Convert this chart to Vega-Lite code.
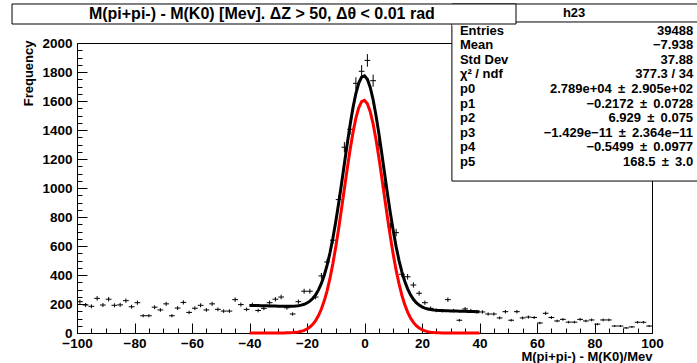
{
  "$schema": "https://vega.github.io/schema/vega-lite/v6.json",
  "width": 575,
  "height": 290,
  "autosize": {"type": "none"},
  "padding": {"left": 77, "top": 43, "right": 45, "bottom": 30},
  "background": "white",
  "config": {
    "view": {"stroke": "black", "strokeWidth": 1},
    "font": "Liberation Sans",
    "axis": {"grid": false, "domainColor": "black", "tickColor": "black", "labelColor": "black", "titleColor": "black", "labelFont": "Liberation Sans", "labelFontWeight": "bold", "labelFontSize": 13.5, "titleFont": "Liberation Sans", "titleFontWeight": "bold", "titleFontSize": 13, "labelFlush": false, "labelOverlap": false}
  },
  "datasets": {
    "hist": [
      {"x":-99,"x0":-100,"x1":-98,"n":216,"lo":201.3,"hi":230.7},{"x":-97,"x0":-98,"x1":-96,"n":193,"lo":179.1,"hi":206.9},{"x":-95,"x0":-96,"x1":-94,"n":184,"lo":170.4,"hi":197.6},{"x":-93,"x0":-94,"x1":-92,"n":239,"lo":223.5,"hi":254.5},{"x":-91,"x0":-92,"x1":-90,"n":193,"lo":179.1,"hi":206.9},
      {"x":-89,"x0":-90,"x1":-88,"n":233,"lo":217.7,"hi":248.3},{"x":-87,"x0":-88,"x1":-86,"n":191,"lo":177.2,"hi":204.8},{"x":-85,"x0":-86,"x1":-84,"n":194,"lo":180.1,"hi":207.9},{"x":-83,"x0":-84,"x1":-82,"n":223,"lo":208.1,"hi":237.9},{"x":-81,"x0":-82,"x1":-80,"n":181,"lo":167.5,"hi":194.5},
      {"x":-79,"x0":-80,"x1":-78,"n":209,"lo":194.5,"hi":223.5},{"x":-77,"x0":-78,"x1":-76,"n":119,"lo":108.1,"hi":129.9},{"x":-75,"x0":-76,"x1":-74,"n":119,"lo":108.1,"hi":129.9},{"x":-73,"x0":-74,"x1":-72,"n":178,"lo":164.7,"hi":191.3},{"x":-71,"x0":-72,"x1":-70,"n":159,"lo":146.4,"hi":171.6},
      {"x":-69,"x0":-70,"x1":-68,"n":201,"lo":186.8,"hi":215.2},{"x":-67,"x0":-68,"x1":-66,"n":119,"lo":108.1,"hi":129.9},{"x":-65,"x0":-66,"x1":-64,"n":172,"lo":158.9,"hi":185.1},{"x":-63,"x0":-64,"x1":-62,"n":211,"lo":196.5,"hi":225.5},{"x":-61,"x0":-62,"x1":-60,"n":142,"lo":130.1,"hi":153.9},
      {"x":-59,"x0":-60,"x1":-58,"n":171,"lo":157.9,"hi":184.1},{"x":-57,"x0":-58,"x1":-56,"n":191,"lo":177.2,"hi":204.8},{"x":-55,"x0":-56,"x1":-54,"n":159,"lo":146.4,"hi":171.6},{"x":-53,"x0":-54,"x1":-52,"n":201,"lo":186.8,"hi":215.2},{"x":-51,"x0":-52,"x1":-50,"n":163,"lo":150.2,"hi":175.8},
      {"x":-49,"x0":-50,"x1":-48,"n":151,"lo":138.7,"hi":163.3},{"x":-47,"x0":-48,"x1":-46,"n":151,"lo":138.7,"hi":163.3},{"x":-45,"x0":-46,"x1":-44,"n":230,"lo":214.8,"hi":245.2},{"x":-43,"x0":-44,"x1":-42,"n":196,"lo":182,"hi":210},{"x":-41,"x0":-42,"x1":-40,"n":163,"lo":150.2,"hi":175.8},
      {"x":-39,"x0":-40,"x1":-38,"n":195,"lo":181,"hi":209},{"x":-37,"x0":-38,"x1":-36,"n":155,"lo":142.6,"hi":167.4},{"x":-35,"x0":-36,"x1":-34,"n":170,"lo":157,"hi":183},{"x":-33,"x0":-34,"x1":-32,"n":209,"lo":194.5,"hi":223.5},{"x":-31,"x0":-32,"x1":-30,"n":233,"lo":217.7,"hi":248.3},
      {"x":-29,"x0":-30,"x1":-28,"n":248,"lo":232.3,"hi":263.7},{"x":-27,"x0":-28,"x1":-26,"n":174,"lo":160.8,"hi":187.2},{"x":-25,"x0":-26,"x1":-24,"n":131,"lo":119.6,"hi":142.4},{"x":-23,"x0":-24,"x1":-22,"n":216,"lo":201.3,"hi":230.7},{"x":-21,"x0":-22,"x1":-20,"n":288,"lo":271,"hi":305},
      {"x":-19,"x0":-20,"x1":-18,"n":288,"lo":271,"hi":305},{"x":-17,"x0":-18,"x1":-16,"n":248,"lo":232.3,"hi":263.7},{"x":-15,"x0":-16,"x1":-14,"n":394,"lo":374.2,"hi":413.8},{"x":-13,"x0":-14,"x1":-12,"n":490,"lo":467.9,"hi":512.1},{"x":-11,"x0":-12,"x1":-10,"n":640,"lo":614.7,"hi":665.3},
      {"x":-9,"x0":-10,"x1":-8,"n":920,"lo":889.7,"hi":950.3},{"x":-7,"x0":-8,"x1":-6,"n":1281,"lo":1245.2,"hi":1316.8},{"x":-5,"x0":-6,"x1":-4,"n":1405,"lo":1367.5,"hi":1442.5},{"x":-3,"x0":-4,"x1":-2,"n":1722,"lo":1680.5,"hi":1763.5},{"x":-1,"x0":-2,"x1":0,"n":1805,"lo":1762.5,"hi":1847.5},
      {"x":1,"x0":0,"x1":2,"n":1880,"lo":1836.6,"hi":1923.4},{"x":3,"x0":2,"x1":4,"n":1740,"lo":1698.3,"hi":1781.7},{"x":5,"x0":4,"x1":6,"n":1300,"lo":1263.9,"hi":1336.1},{"x":7,"x0":6,"x1":8,"n":1005,"lo":973.3,"hi":1036.7},{"x":9,"x0":8,"x1":10,"n":733,"lo":705.9,"hi":760.1},
      {"x":11,"x0":10,"x1":12,"n":692,"lo":665.7,"hi":718.3},{"x":13,"x0":12,"x1":14,"n":405,"lo":384.9,"hi":425.1},{"x":15,"x0":14,"x1":16,"n":388,"lo":368.3,"hi":407.7},{"x":17,"x0":16,"x1":18,"n":331,"lo":312.8,"hi":349.2},{"x":19,"x0":18,"x1":20,"n":274,"lo":257.4,"hi":290.6},
      {"x":21,"x0":20,"x1":22,"n":209,"lo":194.5,"hi":223.5},{"x":23,"x0":22,"x1":24,"n":170,"lo":157,"hi":183},{"x":25,"x0":24,"x1":26,"n":156,"lo":143.5,"hi":168.5},{"x":27,"x0":26,"x1":28,"n":153,"lo":140.6,"hi":165.4},{"x":29,"x0":28,"x1":30,"n":230,"lo":214.8,"hi":245.2},
      {"x":31,"x0":30,"x1":32,"n":154,"lo":141.6,"hi":166.4},{"x":33,"x0":32,"x1":34,"n":88,"lo":78.6,"hi":97.4},{"x":35,"x0":34,"x1":36,"n":166,"lo":153.1,"hi":178.9},{"x":37,"x0":36,"x1":38,"n":154,"lo":141.6,"hi":166.4},{"x":39,"x0":38,"x1":40,"n":147,"lo":134.9,"hi":159.1},
      {"x":41,"x0":40,"x1":42,"n":145,"lo":133,"hi":157},{"x":43,"x0":42,"x1":44,"n":131,"lo":119.6,"hi":142.4},{"x":45,"x0":44,"x1":46,"n":131,"lo":119.6,"hi":142.4},{"x":47,"x0":46,"x1":48,"n":104,"lo":93.8,"hi":114.2},{"x":49,"x0":48,"x1":50,"n":147,"lo":134.9,"hi":159.1},
      {"x":51,"x0":50,"x1":52,"n":88,"lo":78.6,"hi":97.4},{"x":53,"x0":52,"x1":54,"n":147,"lo":134.9,"hi":159.1},{"x":55,"x0":54,"x1":56,"n":104,"lo":93.8,"hi":114.2},{"x":57,"x0":56,"x1":58,"n":110,"lo":99.5,"hi":120.5},{"x":59,"x0":58,"x1":60,"n":107,"lo":96.7,"hi":117.3},
      {"x":61,"x0":60,"x1":62,"n":69,"lo":60.7,"hi":77.3},{"x":63,"x0":62,"x1":64,"n":136,"lo":124.3,"hi":147.7},{"x":65,"x0":64,"x1":66,"n":107,"lo":96.7,"hi":117.3},{"x":67,"x0":66,"x1":68,"n":83,"lo":73.9,"hi":92.1},{"x":69,"x0":68,"x1":70,"n":94,"lo":84.3,"hi":103.7},
      {"x":71,"x0":70,"x1":72,"n":75,"lo":66.3,"hi":83.7},{"x":73,"x0":72,"x1":74,"n":75,"lo":66.3,"hi":83.7},{"x":75,"x0":74,"x1":76,"n":94,"lo":84.3,"hi":103.7},{"x":77,"x0":76,"x1":78,"n":83,"lo":73.9,"hi":92.1},{"x":79,"x0":78,"x1":80,"n":90,"lo":80.5,"hi":99.5},
      {"x":81,"x0":80,"x1":82,"n":61,"lo":53.2,"hi":68.8},{"x":83,"x0":82,"x1":84,"n":90,"lo":80.5,"hi":99.5},{"x":85,"x0":84,"x1":86,"n":90,"lo":80.5,"hi":99.5},{"x":87,"x0":86,"x1":88,"n":48,"lo":41.1,"hi":54.9},{"x":89,"x0":88,"x1":90,"n":48,"lo":41.1,"hi":54.9},
      {"x":91,"x0":90,"x1":92,"n":35,"lo":29.1,"hi":40.9},{"x":93,"x0":92,"x1":94,"n":42,"lo":35.5,"hi":48.5},{"x":95,"x0":94,"x1":96,"n":74,"lo":65.4,"hi":82.6},{"x":97,"x0":96,"x1":98,"n":74,"lo":65.4,"hi":82.6},{"x":99,"x0":98,"x1":100,"n":48,"lo":41.1,"hi":54.9}
    ],
    "fit": [
      {"x":-40,"total":190.5,"sig":0},{"x":-39,"total":189.9,"sig":0},{"x":-38,"total":189.4,"sig":0},{"x":-37,"total":188.8,"sig":0},{"x":-36,"total":188.3,"sig":0},
      {"x":-35,"total":187.7,"sig":0},{"x":-34,"total":187.2,"sig":0},{"x":-33,"total":186.6,"sig":0},{"x":-32,"total":186.1,"sig":0},{"x":-31,"total":185.5,"sig":0},
      {"x":-30,"total":185.0,"sig":0},{"x":-29,"total":184.5,"sig":0.1},{"x":-28,"total":184.2,"sig":0.3},{"x":-27,"total":184.2,"sig":0.9},{"x":-26,"total":184.4,"sig":1.6},
      {"x":-25,"total":184.9,"sig":2.7},{"x":-24,"total":186.1,"sig":4.4},{"x":-23,"total":188.3,"sig":7.2},{"x":-22,"total":192.1,"sig":11.5},{"x":-21,"total":197.9,"sig":17.9},
      {"x":-20,"total":206.8,"sig":27.3},{"x":-19,"total":219.7,"sig":40.8},{"x":-18,"total":238.1,"sig":59.7},{"x":-17,"total":263.3,"sig":85.5},{"x":-16,"total":297.3,"sig":120.0},
      {"x":-15,"total":341.7,"sig":165.0},{"x":-14,"total":398.3,"sig":222.1},{"x":-13,"total":468.5,"sig":292.9},{"x":-12,"total":553.4,"sig":378.3},{"x":-11,"total":653.1,"sig":478.6},
      {"x":-10,"total":766.8,"sig":592.8},{"x":-9,"total":892.6,"sig":719.2},{"x":-8,"total":1027.5,"sig":854.6},{"x":-7,"total":1166.9,"sig":994.6},{"x":-6,"total":1305.5,"sig":1133.7},
      {"x":-5,"total":1436.8,"sig":1265.6},{"x":-4,"total":1554.3,"sig":1383.6},{"x":-3,"total":1651.7,"sig":1481.6},{"x":-2,"total":1723.3,"sig":1553.7},{"x":-1,"total":1764.8,"sig":1595.8},
      {"x":0,"total":1773.7,"sig":1605.2},{"x":1,"total":1749.4,"sig":1581.4},{"x":2,"total":1693.3,"sig":1525.9},{"x":3,"total":1608.8,"sig":1441.9},{"x":4,"total":1500.8,"sig":1334.5},
      {"x":5,"total":1375.4,"sig":1209.6},{"x":6,"total":1239.1,"sig":1073.9},{"x":7,"total":1098.3,"sig":933.6},{"x":8,"total":959.1,"sig":795.0},{"x":9,"total":826.7,"sig":663.1},
      {"x":10,"total":704.6,"sig":541.6},{"x":11,"total":595.8,"sig":433.3},{"x":12,"total":501.3,"sig":339.4},{"x":13,"total":421.9,"sig":260.5},{"x":14,"total":356.5,"sig":195.7},
      {"x":15,"total":304.3,"sig":144.0},{"x":16,"total":263.5,"sig":103.8},{"x":17,"total":232.5,"sig":73.3},{"x":18,"total":209.3,"sig":50.7},{"x":19,"total":192.4,"sig":34.3},
      {"x":20,"total":180.3,"sig":22.8},{"x":21,"total":171.8,"sig":14.8},{"x":22,"total":165.8,"sig":9.4},{"x":23,"total":161.8,"sig":5.9},{"x":24,"total":158.9,"sig":3.6},
      {"x":25,"total":156.9,"sig":2.1},{"x":26,"total":155.4,"sig":1.2},{"x":27,"total":154.4,"sig":0.7},{"x":28,"total":153.5,"sig":0.4},{"x":29,"total":152.8,"sig":0.2},
      {"x":30,"total":152.0,"sig":0.1},{"x":31,"total":151.5,"sig":0},{"x":32,"total":150.9,"sig":0},{"x":33,"total":150.4,"sig":0},{"x":34,"total":149.8,"sig":0},
      {"x":35,"total":149.3,"sig":0},{"x":36,"total":148.7,"sig":0},{"x":37,"total":148.2,"sig":0},{"x":38,"total":147.6,"sig":0},{"x":39,"total":147.1,"sig":0},
      {"x":40,"total":146.5,"sig":0}
    ],
    "stats": [
      {"row":1,"label":"Entries","value":"39488"},
      {"row":2,"label":"Mean","value":"−7.938"},
      {"row":3,"label":"Std Dev","value":"37.88"},
      {"row":4,"label":"χ² / ndf","value":"377.3 / 34"},
      {"row":5,"label":"p0","value":"2.789e+04 \u2009±\u2009 2.905e+02"},
      {"row":6,"label":"p1","value":"−0.2172 \u2009±\u2009 0.0728"},
      {"row":7,"label":"p2","value":"6.929 \u2009±\u2009 0.075"},
      {"row":8,"label":"p3","value":"−1.429e−11 \u2009±\u2009 2.364e−11"},
      {"row":9,"label":"p4","value":"−0.5499 \u2009±\u2009 0.0977"},
      {"row":10,"label":"p5","value":"168.5 \u2009±\u2009 3.0"}
    ]
  },
  "layer": [
    {
      "layer": [
        {
          "data": {"name": "hist"},
          "mark": {"type": "rule", "color": "black", "strokeWidth": 1},
          "encoding": {
            "x": {"field": "x0", "type": "quantitative", "scale": {"domain": [-100, 100], "nice": false, "zero": false},
              "axis": {
                "orient": "bottom",
                "values": [-100,-80,-60,-40,-20,0,20,40,60,80,100],
                "format": "d",
                "tickSize": -10,
                "labelPadding": 13,
                "title": "M(pi+pi-) - M(K0)/Mev",
                "titleAnchor": "end", "titleAlign": "right", "titleX": 575, "titleY": 23, "titleBaseline": "middle"
              }},
            "x2": {"field": "x1"},
            "y": {"field": "n", "type": "quantitative", "scale": {"domain": [0, 2000], "nice": false, "zero": false},
              "axis": {
                "orient": "left",
                "values": [0,200,400,600,800,1000,1200,1400,1600,1800,2000],
                "format": "d",
                "tickSize": -10,
                "labelPadding": 15,
                "title": "Frequency",
                "titleAngle": 270, "titleAlign": "right", "titleX": -49, "titleY": -3, "titleBaseline": "middle"
              }}
          }
        },
        {
          "data": {"name": "hist"},
          "mark": {"type": "rule", "color": "black", "strokeWidth": 1},
          "encoding": {
            "x": {"field": "x", "type": "quantitative", "axis": null},
            "y": {"field": "lo", "type": "quantitative", "axis": null},
            "y2": {"field": "hi"}
          }
        },
        {
          "data": {"name": "fit"},
          "mark": {"type": "line", "color": "#ff0000", "strokeWidth": 3},
          "encoding": {
            "x": {"field": "x", "type": "quantitative", "axis": null},
            "y": {"field": "sig", "type": "quantitative", "axis": null}
          }
        },
        {
          "data": {"name": "fit"},
          "mark": {"type": "line", "color": "black", "strokeWidth": 3},
          "encoding": {
            "x": {"field": "x", "type": "quantitative",
              "axis": {"orient": "bottom", "values": [-95,-90,-85,-75,-70,-65,-55,-50,-45,-35,-30,-25,-15,-10,-5,5,10,15,25,30,35,45,50,55,65,70,75,85,90,95], "labels": false, "domain": false, "tickSize": -5, "title": null}},
            "y": {"field": "total", "type": "quantitative",
              "axis": {"orient": "left", "values": [50,100,150,250,300,350,450,500,550,650,700,750,850,900,950,1050,1100,1150,1250,1300,1350,1450,1500,1550,1650,1700,1750,1850,1900,1950], "labels": false, "domain": false, "tickSize": -5, "title": null}}
          }
        },
        {
          "data": {"values": [{}]},
          "mark": {"type": "rect", "fill": "white", "stroke": "black", "strokeWidth": 1},
          "encoding": {
            "x": {"datum": 30.4, "type": "quantitative", "axis": null}, "x2": {"datum": 117},
            "y": {"datum": 1048, "type": "quantitative", "axis": null}, "y2": {"datum": 2145}
          }
        }
      ],
      "resolve": {"axis": {"x": "independent", "y": "independent"}}
    },
    {
      "data": {"name": "stats"},
      "layer": [
        {
          "mark": {"type": "text", "font": "Liberation Sans", "fontWeight": "bold", "fontSize": 13, "align": "left", "baseline": "middle", "color": "black"},
          "encoding": {
            "x": {"datum": 33.2, "type": "quantitative", "axis": null},
            "y": {"field": "row", "type": "quantitative", "scale": {"domain": [21.71, 1.849], "nice": false, "zero": false}, "axis": null},
            "text": {"field": "label"}
          }
        },
        {
          "mark": {"type": "text", "font": "Liberation Sans", "fontWeight": "bold", "fontSize": 13, "align": "right", "baseline": "middle", "color": "black"},
          "encoding": {
            "x": {"datum": 114.3, "type": "quantitative", "axis": null},
            "y": {"field": "row", "type": "quantitative", "axis": null},
            "text": {"field": "value"}
          }
        }
      ]
    },
    {
      "data": {"values": [{}]},
      "layer": [
        {
          "mark": {"type": "rect", "fill": "white", "strokeWidth": 0},
          "encoding": {
            "x": {"datum": 30.5, "type": "quantitative", "axis": null}, "x2": {"datum": 117},
            "y": {"datum": 2117, "type": "quantitative", "scale": {"domain": [0, 2000], "nice": false, "zero": false}, "axis": null}, "y2": {"datum": 2145}
          }
        },
        {
          "mark": {"type": "rect", "fill": "white", "stroke": "black", "strokeWidth": 1},
          "encoding": {
            "x": {"datum": 30.4, "type": "quantitative", "axis": null}, "x2": {"datum": 117},
            "y": {"datum": 2145, "type": "quantitative", "axis": null}, "y2": {"datum": 2269}
          }
        },
        {
          "mark": {"type": "rect", "fill": "white", "stroke": "black", "strokeWidth": 1},
          "encoding": {
            "x": {"datum": -122.6, "type": "quantitative", "axis": null}, "x2": {"datum": 52.7},
            "y": {"datum": 2131, "type": "quantitative", "axis": null}, "y2": {"datum": 2269}
          }
        },
        {
          "mark": {"type": "text", "text": "M(pi+pi-) - M(K0) [Mev]. ΔZ > 50, Δθ < 0.01 rad", "font": "Liberation Sans", "fontWeight": "bold", "fontSize": 16, "align": "center", "baseline": "middle", "color": "black"},
          "encoding": {"x": {"datum": -35.7, "type": "quantitative", "axis": null}, "y": {"datum": 2197, "type": "quantitative", "axis": null}}
        },
        {
          "mark": {"type": "text", "text": "h23", "font": "Liberation Sans", "fontWeight": "bold", "fontSize": 13, "align": "center", "baseline": "middle", "color": "black"},
          "encoding": {"x": {"datum": 72.9, "type": "quantitative", "axis": null}, "y": {"datum": 2207, "type": "quantitative", "axis": null}}
        }
      ]
    }
  ],
  "resolve": {"scale": {"y": "independent"}, "axis": {"x": "independent", "y": "independent"}}
}
